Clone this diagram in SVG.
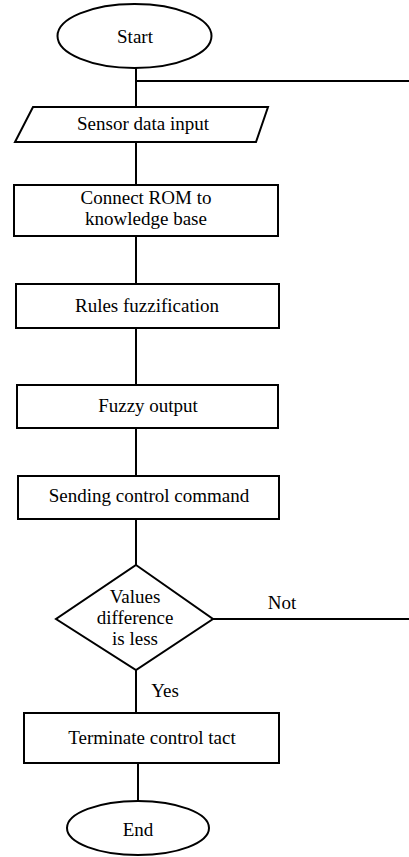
<svg xmlns="http://www.w3.org/2000/svg" width="409" height="857" viewBox="0 0 409 857">
<style>
.s{fill:#fff;stroke:#000;stroke-width:2}
.c{fill:none;stroke:#000;stroke-width:2}
text{font-family:"Liberation Serif","Times New Roman",serif;font-size:19px;fill:#000;text-anchor:middle}
</style>
<rect width="409" height="857" fill="#fff"/>
<g id="connectors">
<path class="c" d="M136 68V107"/>
<path class="c" d="M136 81H409"/>
<path class="c" d="M136 142V185"/>
<path class="c" d="M136 236V284"/>
<path class="c" d="M136 328V385"/>
<path class="c" d="M136 428V476"/>
<path class="c" d="M136 519V565"/>
<path class="c" d="M213 619H409"/>
<path class="c" d="M136 670V713"/>
<path class="c" d="M138 763V801"/>
<text x="282" y="609">Not</text>
<text x="165" y="697">Yes</text>
</g>
<g id="start">
<ellipse class="s" cx="134.5" cy="36" rx="77" ry="32"/>
<text x="135" y="43">Start</text>
</g>
<g id="input">
<polygon class="s" points="33,107 268,107 256,142 15,142"/>
<text x="143" y="130">Sensor data input</text>
</g>
<g id="connect">
<rect class="s" x="14" y="185" width="264" height="51"/>
<text x="146" y="204">Connect ROM to</text>
<text x="146" y="225">knowledge base</text>
</g>
<g id="rules">
<rect class="s" x="16" y="284" width="263" height="44"/>
<text x="147" y="312">Rules fuzzification</text>
</g>
<g id="fuzzy">
<rect class="s" x="17" y="385" width="261" height="43"/>
<text x="148" y="412">Fuzzy output</text>
</g>
<g id="sending">
<rect class="s" x="18" y="476" width="261" height="43"/>
<text x="149" y="502">Sending control command</text>
</g>
<g id="decision">
<polygon class="s" points="136,565 213,619 136,670 56,619"/>
<text x="135" y="603">Values</text>
<text x="135" y="624">difference</text>
<text x="135" y="645">is less</text>
</g>
<g id="terminate">
<rect class="s" x="24" y="713" width="255" height="50"/>
<text x="152" y="744">Terminate control tact</text>
</g>
<g id="end">
<ellipse class="s" cx="138" cy="828" rx="71" ry="27"/>
<text x="138" y="836">End</text>
</g>
</svg>
